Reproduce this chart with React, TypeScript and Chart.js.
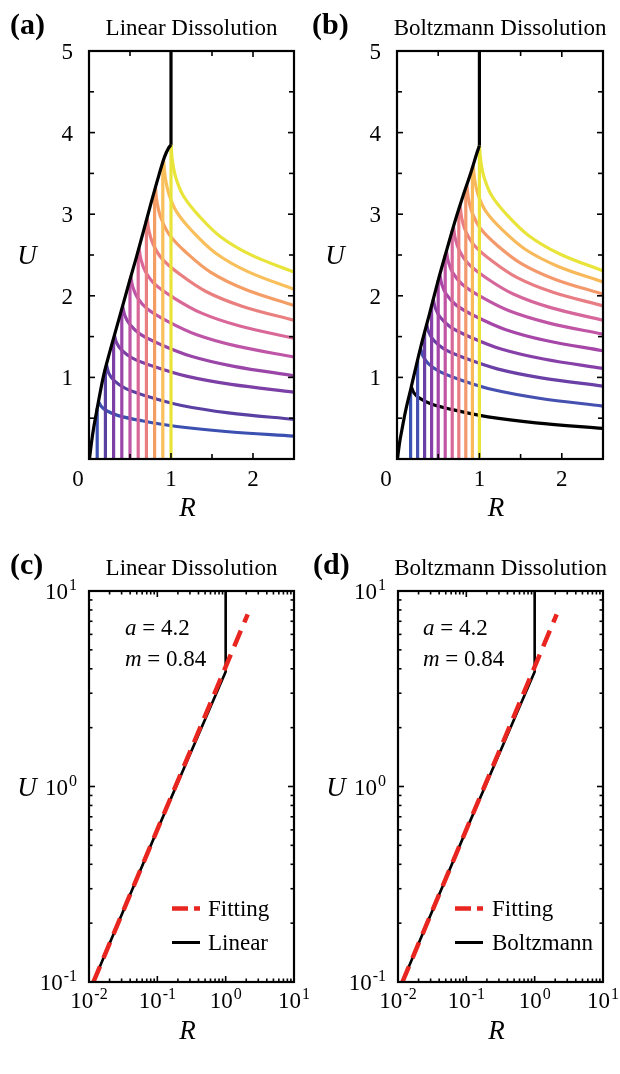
import React, { useEffect, useRef } from "react";
import { Chart, registerables } from "chart.js";

Chart.register(...registerables);

const SERIF = '"Liberation Serif", "Times New Roman", Times, serif';

// ---------------- (a) Linear Dissolution ----------------
const aEnvelopeR = [0.006, 0.03, 0.06, 0.1, 0.175, 0.25, 0.378, 0.5, 0.58, 0.744, 0.85, 0.92, 0.97, 1.0];
const aEnvelopeU = [0, 0.2, 0.4, 0.62, 1.01, 1.3, 1.76, 2.2, 2.48, 3.09, 3.47, 3.7, 3.81, 3.85];
const aCapR = [1.0, 1.0];
const aCapU = [3.85, 5.0];
const aStartR = [0.1, 0.2, 0.3, 0.4, 0.5, 0.6, 0.7, 0.8, 0.9, 1.0];
const aStartTop = [0.62, 1.1, 1.48, 1.84, 2.2, 2.55, 2.93, 3.3, 3.64, 3.85];
const aDecayR = [
  [0.12, 0.149, 0.215, 0.358, 0.644, 1.072, 1.667, 2.5],
  [0.215, 0.242, 0.306, 0.444, 0.718, 1.129, 1.7, 2.5],
  [0.31, 0.336, 0.398, 0.529, 0.792, 1.186, 1.734, 2.5],
  [0.41, 0.435, 0.494, 0.619, 0.87, 1.246, 1.769, 2.5],
  [0.51, 0.534, 0.59, 0.709, 0.948, 1.306, 1.804, 2.5],
  [0.61, 0.633, 0.686, 0.799, 1.026, 1.366, 1.839, 2.5],
  [0.71, 0.731, 0.782, 0.889, 1.104, 1.426, 1.874, 2.5],
  [0.81, 0.83, 0.878, 0.979, 1.182, 1.486, 1.909, 2.5],
  [0.91, 0.929, 0.974, 1.069, 1.26, 1.546, 1.944, 2.5],
  [1.0, 1.018, 1.06, 1.15, 1.33, 1.6, 1.975, 2.5],
];
const aDecayU = [
  [0.7, 0.645, 0.591, 0.532, 0.469, 0.398, 0.337, 0.28],
  [1.15, 1.05, 0.96, 0.865, 0.765, 0.655, 0.565, 0.486],
  [1.515, 1.425, 1.334, 1.237, 1.133, 1.015, 0.914, 0.82],
  [1.875, 1.764, 1.653, 1.533, 1.405, 1.259, 1.135, 1.02],
  [2.235, 2.107, 1.979, 1.841, 1.693, 1.526, 1.383, 1.25],
  [2.59, 2.446, 2.301, 2.146, 1.98, 1.791, 1.63, 1.48],
  [2.96, 2.796, 2.632, 2.456, 2.267, 2.053, 1.87, 1.7],
  [3.33, 3.142, 2.953, 2.75, 2.533, 2.286, 2.076, 1.88],
  [3.66, 3.455, 3.249, 3.028, 2.791, 2.522, 2.293, 2.08],
  [3.85, 3.647, 3.444, 3.226, 2.992, 2.727, 2.501, 2.29],
];
const aColors = ["#3B50B0", "#5A40A3", "#7B3FA5", "#9A45A8", "#BE55A7", "#D96898", "#EA7F80", "#F49D65", "#F8BF5A", "#E8E43A"];

// ---------------- (b) Boltzmann Dissolution ----------------
const bEnvelopeR = [0.006, 0.03, 0.06, 0.1, 0.17, 0.29, 0.4, 0.5, 0.6, 0.7, 0.8, 0.9, 0.96, 1.0];
const bEnvelopeU = [0, 0.19, 0.36, 0.57, 0.87, 1.38, 1.8, 2.19, 2.55, 2.9, 3.22, 3.52, 3.72, 3.84];
const bCapR = [1.0, 1.0];
const bCapU = [3.84, 5.0];
const bStartR = [0.165, 0.25, 0.335, 0.42, 0.5, 0.585, 0.67, 0.75, 0.835, 0.915, 1.0];
const bStartTop = [0.85, 1.21, 1.55, 1.88, 2.19, 2.5, 2.8, 3.06, 3.32, 3.57, 3.84];
const bDecayR = [
  [0.175, 0.203, 0.268, 0.408, 0.687, 1.105, 1.686, 2.5],
  [0.285, 0.312, 0.374, 0.507, 0.772, 1.171, 1.725, 2.5],
  [0.36, 0.386, 0.446, 0.574, 0.831, 1.216, 1.751, 2.5],
  [0.44, 0.465, 0.522, 0.646, 0.893, 1.264, 1.779, 2.5],
  [0.52, 0.544, 0.599, 0.718, 0.956, 1.312, 1.807, 2.5],
  [0.6, 0.623, 0.676, 0.79, 1.018, 1.36, 1.835, 2.5],
  [0.685, 0.707, 0.758, 0.867, 1.084, 1.411, 1.865, 2.5],
  [0.765, 0.786, 0.834, 0.939, 1.147, 1.459, 1.893, 2.5],
  [0.848, 0.868, 0.914, 1.013, 1.211, 1.509, 1.922, 2.5],
  [0.925, 0.944, 0.988, 1.083, 1.272, 1.555, 1.949, 2.5],
  [1.0, 1.018, 1.06, 1.15, 1.33, 1.6, 1.975, 2.5],
];
const bDecayU = [
  [0.88, 0.814, 0.749, 0.678, 0.602, 0.516, 0.443, 0.375],
  [1.36, 1.268, 1.175, 1.076, 0.969, 0.848, 0.745, 0.649],
  [1.65, 1.552, 1.453, 1.347, 1.234, 1.105, 0.995, 0.893],
  [1.96, 1.85, 1.739, 1.62, 1.493, 1.348, 1.225, 1.11],
  [2.26, 2.139, 2.017, 1.886, 1.746, 1.588, 1.452, 1.326],
  [2.55, 2.417, 2.285, 2.142, 1.989, 1.816, 1.668, 1.53],
  [2.85, 2.7, 2.551, 2.39, 2.218, 2.022, 1.855, 1.7],
  [3.11, 2.95, 2.789, 2.617, 2.432, 2.222, 2.043, 1.877],
  [3.36, 3.186, 3.012, 2.824, 2.623, 2.395, 2.201, 2.02],
  [3.6, 3.414, 3.228, 3.028, 2.814, 2.57, 2.363, 2.17],
  [3.84, 3.64, 3.441, 3.226, 2.996, 2.735, 2.512, 2.305],
];
const bStartColors = ["#3B53B2", "#4650B0", "#6A40A7", "#8740A8", "#A546A8", "#C055A6", "#D6679A", "#E87E84", "#F3996B", "#F8B95B", "#E9E43A"];
const bDecayColors = ["#000000", "#4650B0", "#6A40A7", "#8740A8", "#A546A8", "#C055A6", "#D6679A", "#E87E84", "#F3996B", "#F8B95B", "#E9E43A"];

// ---------------- (c) / (d) log-log with power-law fitting ----------------
const cLinearR = [0.0116, 0.1, 1.0, 1.0];
const cLinearU = [0.1, 0.6, 3.86, 10];
const cFitR = [0.0116, 2.1];
const cFitU = [0.1, 7.6];
const dBoltzR = [0.0116, 0.1, 1.0, 1.0];
const dBoltzU = [0.1, 0.6, 3.86, 10];
const dFitR = [0.0116, 2.1];
const dFitU = [0.1, 7.6];

// ---------------- ticks & labels ----------------
const linXMajor = [0, 1, 2];
const linXMinor = [0.5, 1.5];
const linYMajor = [1, 2, 3, 4];
const linYMinor = [0.5, 1.5, 2.5, 3.5, 4.5];
const linXLabels = ["0", "1", "2"];
const linYVals = [1, 2, 3, 4, 5];
const linYLabels = ["1", "2", "3", "4", "5"];
const logXMajor = [0.1, 1];
const logXMinor = [0.02, 0.03, 0.04, 0.05, 0.06, 0.07, 0.08, 0.09, 0.2, 0.3, 0.4, 0.5, 0.6, 0.7, 0.8, 0.9, 2, 3, 4, 5, 6, 7, 8, 9];
const logYMajor = [1];
const logYMinor = [0.2, 0.3, 0.4, 0.5, 0.6, 0.7, 0.8, 0.9, 2, 3, 4, 5, 6, 7, 8, 9];
const logXVals = [0.01, 0.1, 1, 10];
const logXExp = ["-2", "-1", "0", "1"];
const logYVals = [0.1, 1, 10];
const logYExp = ["-1", "0", "1"];

const FIT_RED = "#E8261F";

type Pt = { x: number; y: number };
const zip = (xs: number[], ys: number[]): Pt[] => xs.map((x, i) => ({ x, y: ys[i] }));

const lineBase = { showLine: true, pointRadius: 0, fill: false, tension: 0, borderCapStyle: "butt", borderJoinStyle: "round" };

function curveDatasets(
  envR: number[], envU: number[], capR: number[], capU: number[],
  startR: number[], startTop: number[], decayR: number[][], decayU: number[][],
  vColors: string[], dColors: string[]
) {
  const ds: any[] = [
    { ...lineBase, data: zip(envR, envU), borderColor: "#000", borderWidth: 3.2, order: 0, cubicInterpolationMode: "monotone" },
    { ...lineBase, data: zip(capR, capU), borderColor: "#000", borderWidth: 3.2, order: 0 },
  ];
  const n = startR.length;
  for (let i = 0; i < n; i++) {
    const order = n - i;
    ds.push({ ...lineBase, data: [{ x: startR[i], y: 0 }, { x: startR[i], y: startTop[i] }], borderColor: vColors[i], borderWidth: 3.2, order });
    ds.push({ ...lineBase, data: zip(decayR[i], decayU[i]), borderColor: dColors[i], borderWidth: 3.2, order, tension: 0.35 });
  }
  return ds;
}

function fitDatasets(lr: number[], lu: number[], fr: number[], fu: number[]) {
  return [
    { ...lineBase, data: zip(fr, fu), borderColor: FIT_RED, borderWidth: 4.5, borderDash: [17, 9], order: 0 },
    { ...lineBase, data: zip(lr, lu), borderColor: "#000", borderWidth: 2.6, order: 1 },
  ];
}

interface LegendItem { label: string; color: string; dash: number[]; width: number; dyBottom: number }
interface Spec {
  log: boolean;
  padding: { left: number; top: number; right: number; bottom: number };
  datasets: any[];
  tag: string; tagX: number; title: string;
  notesDx: number;
  legend: null | { sampleDx: number; textDx: number; items: LegendItem[] };
}

function drawPow(ctx: CanvasRenderingContext2D, base: string, exp: string | null, x: number, y: number, align: "center" | "right") {
  ctx.font = `23px ${SERIF}`;
  const w1 = ctx.measureText(base).width;
  let w2 = 0;
  if (exp) { ctx.font = `16px ${SERIF}`; w2 = ctx.measureText(exp).width + 1; }
  const total = w1 + w2;
  const x0 = align === "center" ? x - total / 2 : x - total;
  ctx.textAlign = "left";
  ctx.textBaseline = "alphabetic";
  ctx.font = `23px ${SERIF}`;
  ctx.fillText(base, x0, y);
  if (exp) { ctx.font = `16px ${SERIF}`; ctx.fillText(exp, x0 + w1 + 1, y - 9); }
}

function drawParts(ctx: CanvasRenderingContext2D, parts: [string, boolean][], x: number, y: number) {
  let cx = x;
  ctx.textAlign = "left";
  for (const [t, it] of parts) {
    ctx.font = `${it ? "italic " : ""}23px ${SERIF}`;
    ctx.fillText(t, cx, y);
    cx += ctx.measureText(t).width;
  }
}

function panelPlugin(spec: Spec) {
  return {
    id: "panelDecor",
    afterDraw(chart: any) {
      const ctx: CanvasRenderingContext2D = chart.ctx;
      const ca = chart.chartArea;
      const xs = chart.scales.x;
      const ys = chart.scales.y;
      ctx.save();
      ctx.strokeStyle = "#000";
      ctx.fillStyle = "#000";
      const seg = (x1: number, y1: number, x2: number, y2: number) => {
        ctx.beginPath(); ctx.moveTo(x1, y1); ctx.lineTo(x2, y2); ctx.stroke();
      };
      const majLen = 6;
      const minLen = spec.log ? 3.5 : 5;
      ctx.lineWidth = 1.6;
      const xMaj = spec.log ? logXMajor : linXMajor;
      const xMin = spec.log ? logXMinor : linXMinor;
      const yMaj = spec.log ? logYMajor : linYMajor;
      const yMin = spec.log ? logYMinor : linYMinor;
      const tx = (v: number, len: number) => { const p = xs.getPixelForValue(v); seg(p, ca.bottom, p, ca.bottom - len); seg(p, ca.top, p, ca.top + len); };
      const ty = (v: number, len: number) => { const p = ys.getPixelForValue(v); seg(ca.left, p, ca.left + len, p); seg(ca.right, p, ca.right - len, p); };
      xMaj.forEach((v) => tx(v, majLen));
      xMin.forEach((v) => tx(v, minLen));
      yMaj.forEach((v) => ty(v, majLen));
      yMin.forEach((v) => ty(v, minLen));
      ctx.lineWidth = 2.2;
      ctx.strokeRect(ca.left, ca.top, ca.right - ca.left, ca.bottom - ca.top);

      // tick labels
      if (spec.log) {
        logXVals.forEach((v, i) => drawPow(ctx, "10", logXExp[i], xs.getPixelForValue(v), ca.bottom + 25.5, "center"));
        logYVals.forEach((v, i) => drawPow(ctx, "10", logYExp[i], ca.left - 12, ys.getPixelForValue(v) + 8, "right"));
      } else {
        linXMajor.forEach((v, i) => drawPow(ctx, linXLabels[i], null, xs.getPixelForValue(v) + (i === 0 ? -11 : 0), ca.bottom + 27, "center"));
        linYVals.forEach((v, i) => drawPow(ctx, linYLabels[i], null, ca.left - 16, ys.getPixelForValue(v) + 8, "right"));
      }

      // axis titles
      const midX = (ca.left + ca.right) / 2;
      const midY = (ca.top + ca.bottom) / 2;
      ctx.font = `italic 27px ${SERIF}`;
      ctx.textAlign = "center";
      ctx.fillText("U", ca.left - 62, midY + 9);
      ctx.fillText("R", midX - 4, ca.bottom + 57);

      // panel tag & title
      ctx.font = `bold 30px ${SERIF}`;
      ctx.textAlign = "left";
      ctx.fillText(spec.tag, spec.tagX, ca.top - 17);
      ctx.font = `23px ${SERIF}`;
      ctx.textAlign = "center";
      ctx.fillText(spec.title, midX, ca.top - 16);

      // annotation
      if (spec.log) {
        drawParts(ctx, [["a", true], [" = 4.2", false]], ca.left + spec.notesDx, ca.top + 44);
        drawParts(ctx, [["m", true], [" = 0.84", false]], ca.left + spec.notesDx, ca.top + 75);
      }

      // legend
      if (spec.legend) {
        const lg = spec.legend;
        lg.items.forEach((it) => {
          const yb = ca.bottom - it.dyBottom;
          const ly = yb - 7.5;
          ctx.save();
          ctx.strokeStyle = it.color;
          ctx.lineWidth = it.width;
          ctx.setLineDash(it.dash);
          seg(ca.left + lg.sampleDx, ly, ca.left + lg.sampleDx + 28, ly);
          ctx.restore();
          ctx.font = `23px ${SERIF}`;
          ctx.textAlign = "left";
          ctx.fillText(it.label, ca.left + lg.textDx, yb);
        });
      }
      ctx.restore();
    },
  };
}

function Panel({ spec, left, top }: { spec: Spec; left: number; top: number }) {
  const ref = useRef<HTMLCanvasElement | null>(null);
  useEffect(() => {
    const canvas = ref.current;
    if (!canvas) return;
    const chart = new Chart(canvas, {
      type: "scatter",
      data: { datasets: spec.datasets },
      options: {
        responsive: false,
        animation: false,
        events: [],
        layout: { padding: spec.padding },
        plugins: { legend: { display: false }, tooltip: { enabled: false }, title: { display: false } },
        scales: spec.log
          ? {
              x: { type: "logarithmic", min: 0.01, max: 10, display: false },
              y: { type: "logarithmic", min: 0.1, max: 10, display: false },
            }
          : {
              x: { type: "linear", min: 0, max: 2.5, display: false },
              y: { type: "linear", min: 0, max: 5, display: false },
            },
      } as any,
      plugins: [panelPlugin(spec) as any],
    });
    return () => chart.destroy();
  }, []);
  return (
    <canvas
      ref={ref}
      width={310}
      height={537}
      style={{ position: "absolute", left, top, width: 310, height: 537 }}
    />
  );
}

const specA: Spec = {
  log: false,
  padding: { left: 89, top: 51, right: 16, bottom: 78 },
  datasets: curveDatasets(aEnvelopeR, aEnvelopeU, aCapR, aCapU, aStartR, aStartTop, aDecayR, aDecayU, aColors, aColors),
  tag: "(a)", tagX: 10, title: "Linear Dissolution", notesDx: 0, legend: null,
};
const specB: Spec = {
  log: false,
  padding: { left: 87, top: 51, right: 17, bottom: 78 },
  datasets: curveDatasets(bEnvelopeR, bEnvelopeU, bCapR, bCapU, bStartR, bStartTop, bDecayR, bDecayU, bStartColors, bDecayColors),
  tag: "(b)", tagX: 2, title: "Boltzmann Dissolution", notesDx: 0, legend: null,
};
const specC: Spec = {
  log: true,
  padding: { left: 89, top: 54, right: 16, bottom: 92 },
  datasets: fitDatasets(cLinearR, cLinearU, cFitR, cFitU),
  tag: "(c)", tagX: 10, title: "Linear Dissolution", notesDx: 36,
  legend: {
    sampleDx: 83, textDx: 119,
    items: [
      { label: "Fitting", color: FIT_RED, dash: [16, 6], width: 4.5, dyBottom: 66 },
      { label: "Linear", color: "#000", dash: [], width: 3, dyBottom: 32 },
    ],
  },
};
const specD: Spec = {
  log: true,
  padding: { left: 88, top: 54, right: 17, bottom: 92 },
  datasets: fitDatasets(dBoltzR, dBoltzU, dFitR, dFitU),
  tag: "(d)", tagX: 3, title: "Boltzmann Dissolution", notesDx: 25,
  legend: {
    sampleDx: 57, textDx: 94,
    items: [
      { label: "Fitting", color: FIT_RED, dash: [16, 6], width: 4.5, dyBottom: 66 },
      { label: "Boltzmann", color: "#000", dash: [], width: 3, dyBottom: 32 },
    ],
  },
};

export default function App() {
  return (
    <div style={{ position: "absolute", left: 0, top: 0, width: 620, height: 1074, background: "#fff", overflow: "hidden" }}>
      <Panel spec={specA} left={0} top={0} />
      <Panel spec={specB} left={310} top={0} />
      <Panel spec={specC} left={0} top={537} />
      <Panel spec={specD} left={310} top={537} />
    </div>
  );
}
